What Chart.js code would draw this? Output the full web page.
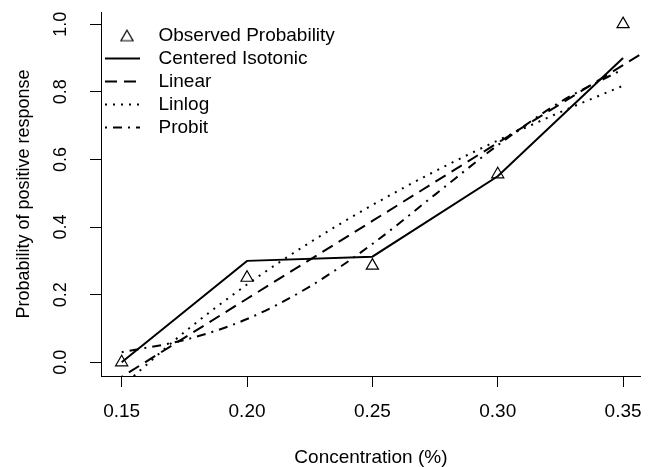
<!DOCTYPE html>
<html>
<head>
<meta charset="utf-8">
<script src="https://cdn.jsdelivr.net/npm/chart.js@4.4.1/dist/chart.umd.min.js"></script>
<style>
  html, body { margin: 0; padding: 0; background: #fff; }
  #wrap { position: relative; width: 649px; height: 467px; }
</style>
</head>
<body>
<div id="wrap"><canvas id="c"></canvas></div>
<script>
// ---- data ----
const seriesNames = ['Observed Probability', 'Centered Isotonic', 'Linear', 'Linlog', 'Probit'];
const doses = [0.15, 0.20, 0.25, 0.30, 0.35];
const observed = [0, 0.25, 0.286, 0.556, 1.0];
const centeredIsotonic = [0, 0.30, 0.3125, 0.55, 0.90];
const linearX = [0.14, 0.15, 0.20, 0.25, 0.30, 0.35, 0.36];
const linearY = [-0.089, -0.043, 0.188, 0.418, 0.649, 0.879, 0.925];
const curveX = [0.15, 0.175, 0.20, 0.225, 0.25, 0.275, 0.30, 0.325, 0.35];
const linlogY = [-0.072, 0.089, 0.230, 0.354, 0.465, 0.565, 0.656, 0.740, 0.818];
const probitY = [0.03, 0.066, 0.128, 0.224, 0.35, 0.496, 0.642, 0.77, 0.867];
const xTicks = [0.15, 0.20, 0.25, 0.30, 0.35];
const yTicks = [0, 0.2, 0.4, 0.6, 0.8, 1.0];
const xTitle = 'Concentration (%)';
const yTitle = 'Probability of positive response';

// ---- styles ----
const FONT = "'Liberation Sans', Arial, Helvetica, sans-serif";
const FS = 19;
const FSY = 18;
const dashLinear = [12, 7];
const dashLinlog = [2, 6];
const dashProbit = [2, 6, 9, 6];

const pts = (xs, ys) => xs.map((x, i) => ({ x: x, y: ys[i] }));

function sampleLine(dash) {
  const c = document.createElement('canvas');
  c.width = 44; c.height = 6;
  const g = c.getContext('2d');
  g.strokeStyle = '#000'; g.lineWidth = 2; g.setLineDash(dash);
  g.beginPath(); g.moveTo(0, 3); g.lineTo(35, 3); g.stroke();
  return c;
}
function sampleTriangle() {
  const c = document.createElement('canvas');
  c.width = 44; c.height = 14;
  const g = c.getContext('2d');
  const r = 7, cx = 22, cy = 8.75;
  g.strokeStyle = '#000'; g.lineWidth = 1.2;
  g.beginPath();
  g.moveTo(cx, cy - r);
  g.lineTo(cx + r * Math.sin(Math.PI / 3), cy + r / 2);
  g.lineTo(cx - r * Math.sin(Math.PI / 3), cy + r / 2);
  g.closePath(); g.stroke();
  return c;
}
const legendStyles = [sampleTriangle(), sampleLine([]), sampleLine(dashLinear), sampleLine(dashLinlog), sampleLine(dashProbit)];

const lineDs = (label, data, dash, extra) => Object.assign({
  label: label, data: data, showLine: true, borderColor: '#000', backgroundColor: '#000',
  borderWidth: 2, borderDash: dash, pointRadius: 0, pointHoverRadius: 0, fill: false
}, extra || {});

new Chart(document.getElementById('c'), {
  type: 'scatter',
  data: {
    datasets: [
      { label: seriesNames[0], data: pts(doses, observed), showLine: false,
        pointStyle: 'triangle', pointRadius: 7, pointHoverRadius: 7,
        borderColor: '#000', backgroundColor: 'rgba(0,0,0,0)', borderWidth: 1.2, pointBorderWidth: 1.2 },
      lineDs(seriesNames[1], pts(doses, centeredIsotonic), []),
      lineDs(seriesNames[2], pts(linearX, linearY), dashLinear),
      lineDs(seriesNames[3], pts(curveX, linlogY), dashLinlog, { cubicInterpolationMode: 'monotone' }),
      lineDs(seriesNames[4], pts(curveX, probitY), dashProbit, { cubicInterpolationMode: 'monotone' })
    ]
  },
  options: {
    responsive: true, maintainAspectRatio: false, animation: false,
    layout: { padding: { top: 12, right: 0, bottom: 0, left: 0 } },
    plugins: {
      tooltip: { enabled: false },
      legend: {
        position: 'chartArea', align: 'start',
        title: { display: true, text: '', padding: { top: 21, bottom: 0 }, font: { size: 1, lineHeight: 1 } },
        labels: {
          usePointStyle: true, pointStyleWidth: 44, boxHeight: 10, padding: 4, color: '#000',
          font: { family: FONT, size: FS },
          generateLabels: function (chart) {
            const items = Chart.defaults.plugins.legend.labels.generateLabels(chart);
            items.forEach(it => { it.pointStyle = legendStyles[it.datasetIndex]; });
            return items;
          }
        }
      }
    },
    scales: {
      x: {
        type: 'linear', min: 0.14175, max: 0.35707,
        afterBuildTicks: s => { s.ticks = xTicks.map(v => ({ value: v })); },
        afterFit: s => { s.height = 91; s.paddingLeft = 0; s.paddingRight = 0; },
        border: { display: true, color: '#000', width: 1 },
        grid: { display: true, drawOnChartArea: false, drawTicks: true, tickLength: 11, color: '#000', lineWidth: 1 },
        ticks: { color: '#000', font: { family: FONT, size: FS }, padding: 13, maxRotation: 0, minRotation: 0, autoSkip: false,
                 callback: v => Number(v).toFixed(2) },
        title: { display: true, text: xTitle, color: '#000', font: { family: FONT, size: FS, lineHeight: 1 }, padding: { top: 0, bottom: 0 } }
      },
      y: {
        type: 'linear', min: -0.0405, max: 1.036,
        afterBuildTicks: s => { s.ticks = yTicks.map(v => ({ value: v })); },
        afterFit: s => { s.width = 101; s.paddingTop = 0; s.paddingBottom = 0; },
        border: { display: true, color: '#000', width: 1 },
        grid: { display: true, drawOnChartArea: false, drawTicks: true, tickLength: 11, color: '#000', lineWidth: 1 },
        ticks: { color: '#000', font: { family: FONT, size: FSY }, padding: 16, minRotation: 90, maxRotation: 90, crossAlign: 'center', autoSkip: false,
                 callback: v => Number(v).toFixed(1) },
        title: { display: true, text: yTitle, color: '#000', font: { family: FONT, size: FSY, lineHeight: 1 }, padding: { top: 15, bottom: 0 } }
      }
    }
  }
});
</script>
</body>
</html>
